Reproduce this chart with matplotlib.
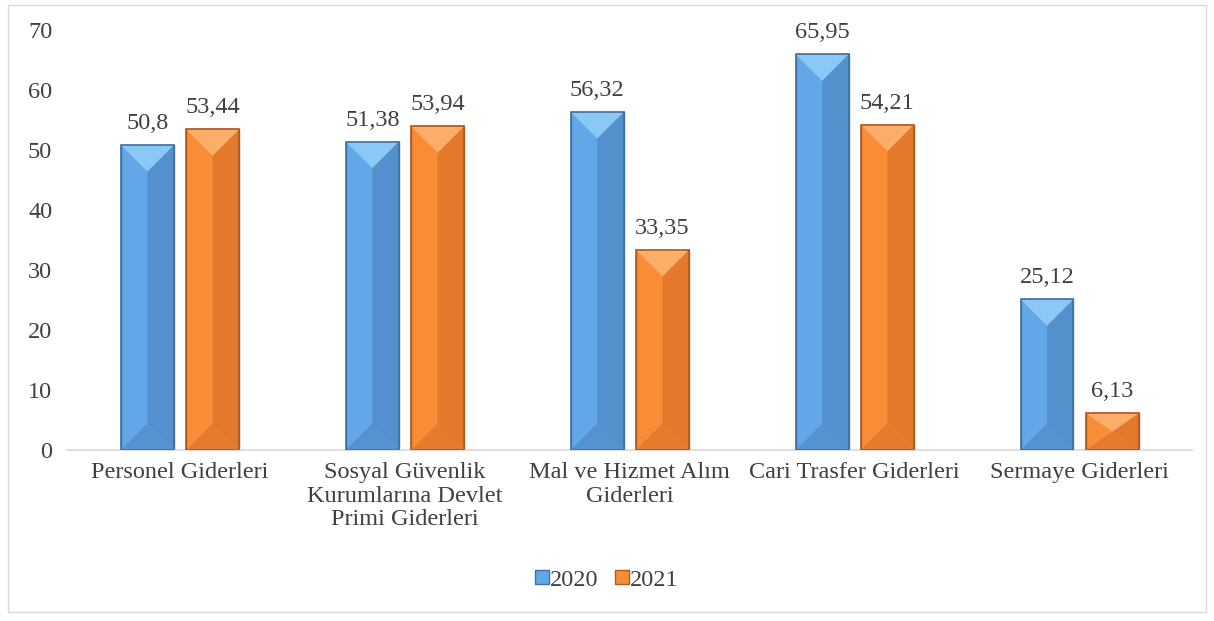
import matplotlib.pyplot as plt
import numpy as np
from matplotlib.patches import Polygon, Rectangle

categories = ["Personel Giderleri",
              "Sosyal Güvenlik\nKurumlarına Devlet\nPrimi Giderleri",
              "Mal ve Hizmet Alım\nGiderleri",
              "Cari Trasfer Giderleri",
              "Sermaye Giderleri"]
values_2020 = [50.8, 51.38, 56.32, 65.95, 25.12]
values_2021 = [53.44, 53.94, 33.35, 54.21, 6.13]
series_names = ["2020", "2021"]

# base (left), light (top), dark (right / bottom), edge
blue = ("#62A8E8", "#8CC8F5", "#5391CE", "#41719C")
orange = ("#F98C36", "#FBAE6A", "#E37A2B", "#AE5A21")

plt.rcParams['font.family'] = ['Liberation Serif', 'DejaVu Serif']
text_color = "#404040"
fs = 17.5

fig = plt.figure(figsize=(12.14, 6.21), dpi=100, facecolor='white')
ax = fig.add_axes([0.0556, 0.2754, 0.9264, 0.6763])

x = np.arange(len(categories))
width = 0.235
offset = 0.145
px_x = 1125 / len(categories)   # pixels per x unit (approx)
px_y = 420 / 70                 # pixels per y unit (approx)


def bevel_bars(xpos, vals, cols):
    bars = ax.bar(xpos, vals, width, color=cols[0], edgecolor=cols[3],
                  linewidth=1.0, zorder=2)
    for b in bars:
        x0, y0 = b.get_x(), b.get_y()
        x1, y1 = x0 + b.get_width(), y0 + b.get_height()
        xc = (x0 + x1) / 2
        d = min(b.get_width() / 2 * px_x / px_y, b.get_height() / 2)
        ax.add_patch(Polygon([(xc, y0 + d), (x1, y0), (x1, y1), (xc, y1 - d)],
                             closed=True, facecolor=cols[2], linewidth=0, zorder=3))
        ax.add_patch(Polygon([(x0, y1), (x1, y1), (xc, y1 - d)],
                             closed=True, facecolor=cols[1], linewidth=0, zorder=3))
        ax.add_patch(Polygon([(x0, y0), (x1, y0), (xc, y0 + d)],
                             closed=True, facecolor=cols[2], alpha=0.9,
                             linewidth=0, zorder=3))
        ax.add_patch(Rectangle((x0, y0), x1 - x0, y1 - y0, fill=False,
                               edgecolor=cols[3], linewidth=1.2, zorder=4))
        ax.annotate(f"{b.get_height():g}".replace('.', ','), (xc, y1),
                    xytext=(0, 8), textcoords='offset points', ha='center',
                    va='bottom', fontsize=fs, color=text_color)


bevel_bars(x - offset, values_2020, blue)
bevel_bars(x + offset, values_2021, orange)

ax.set_xlim(-0.5, len(categories) - 0.5)
ax.set_ylim(0, 70)
ax.set_yticks(range(0, 71, 10))
ax.set_xticks(x)
ax.set_xticklabels(categories, fontsize=fs, color=text_color, linespacing=1.15)
ax.tick_params(axis='y', labelsize=fs, labelcolor=text_color, length=0, pad=11)
ax.tick_params(axis='x', length=0, pad=9)
for s in ['top', 'right', 'left']:
    ax.spines[s].set_visible(False)
ax.spines['bottom'].set_color('#D9D9D9')
ax.spines['bottom'].set_linewidth(1.2)

handles = [Rectangle((0, 0), 1, 1, facecolor=blue[0], edgecolor=blue[3]),
           Rectangle((0, 0), 1, 1, facecolor=orange[0], edgecolor=orange[3])]
leg = fig.legend(handles, series_names, loc='center', bbox_to_anchor=(0.5, 0.066),
                 ncol=2, frameon=False, fontsize=fs, handlelength=0.55,
                 handleheight=0.55, handletextpad=0.05, columnspacing=0.7)
for t in leg.get_texts():
    t.set_color(text_color)

fig.patches.append(Rectangle((0.007, 0.015), 0.986, 0.977, transform=fig.transFigure,
                             fill=False, edgecolor='#D9D9D9', linewidth=1.0))

fig.savefig("out.png", dpi=100, facecolor='white')
